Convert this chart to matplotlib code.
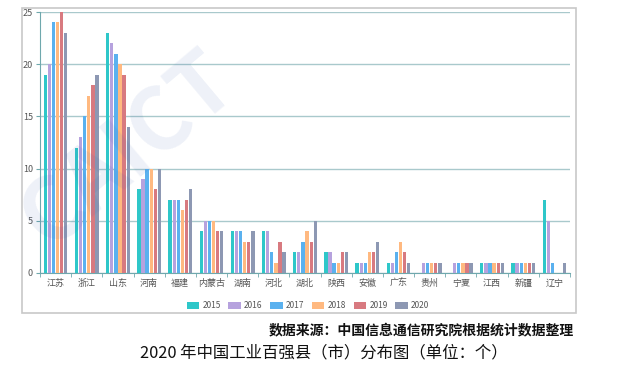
import numpy as np
import matplotlib.pyplot as plt
from matplotlib.patches import Rectangle

plt.rcParams['font.family'] = ['Noto Sans CJK SC', 'DejaVu Sans']

provinces = ['江苏', '浙江', '山东', '河南', '福建', '内蒙古', '湖南', '河北', '湖北',
             '陕西', '安徽', '广东', '贵州', '宁夏', '江西', '新疆', '辽宁']
years = ['2015', '2016', '2017', '2018', '2019', '2020']
v2015 = [19, 12, 23, 8, 7, 4, 4, 4, 2, 2, 1, 1, 0, 0, 1, 1, 7]
v2016 = [20, 13, 22, 9, 7, 5, 4, 4, 2, 2, 1, 1, 1, 1, 1, 1, 5]
v2017 = [24, 15, 21, 10, 7, 5, 4, 2, 3, 1, 1, 2, 1, 1, 1, 1, 1]
v2018 = [24, 17, 20, 10, 6, 5, 3, 1, 4, 1, 2, 3, 1, 1, 1, 1, 0]
v2019 = [25, 18, 19, 8, 7, 4, 3, 3, 3, 2, 2, 2, 1, 1, 1, 1, 0]
v2020 = [23, 19, 14, 10, 8, 4, 4, 2, 5, 2, 3, 1, 1, 1, 1, 1, 1]
series = [v2015, v2016, v2017, v2018, v2019, v2020]
colors = ['#2ec7c9', '#b6a2de', '#5ab1ef', '#ffb980', '#d87a80', '#8d98b3']

fig = plt.figure(figsize=(6.4, 3.76), dpi=100)

# chart frame
fig.patches.append(Rectangle((22/640, 1 - 313/376), (576-22)/640, (313-8)/376,
                             transform=fig.transFigure, fill=False,
                             edgecolor='#c8c8c8', linewidth=1.2, zorder=0))

# faint watermark
fig.text(0.2, 0.6, 'CAICT', fontsize=62, color='#3a5fb0', alpha=0.09,
         rotation=40, ha='center', va='center', fontweight='bold', zorder=0)

ax = fig.add_axes([40/640, 1 - 273/376, (570-40)/640, (273-12)/376])
ax.patch.set_alpha(0)

x = np.arange(len(provinces))
w = 0.105
for i, (vals, c, yr) in enumerate(zip(series, colors, years)):
    ax.bar(x + (i - 2.5) * w * 1.25, vals, width=w, color=c, label=yr, zorder=3)

ax.set_xlim(-0.5, len(provinces) - 0.5)
ax.set_ylim(0, 25)
ax.set_yticks([0, 5, 10, 15, 20, 25])
ax.set_xticks(x)
ax.set_xticklabels(provinces)
ax.set_xticks(np.arange(-0.5, len(provinces), 1), minor=True)
ax.tick_params(axis='x', which='major', length=0, labelsize=6.5, colors='#555555', pad=4)
ax.tick_params(axis='x', which='minor', length=3, color='#6fa8ad')
ax.tick_params(axis='y', length=3, labelsize=6.5, colors='#555555', pad=2)
ax.tick_params(axis='y', color='#6fa8ad')
ax.grid(axis='y', color='#a9c9cc', linewidth=1.0, zorder=0)
for s in ['top', 'right']:
    ax.spines[s].set_visible(False)
ax.spines['left'].set_color('#6fa8ad')
ax.spines['bottom'].set_color('#6fa8ad')

fig.legend(loc='center', bbox_to_anchor=(308/640, 1 - 306/376), ncol=6,
           frameon=False, fontsize=6, handlelength=1.5, handleheight=0.8,
           columnspacing=0.9, handletextpad=0.4, labelcolor='#555555')

fig.text(574/640, 1 - 330/376, '数据来源：中国信息通信研究院根据统计数据整理',
         ha='right', va='center', fontsize=10, fontweight='semibold', color='#111111')
fig.text(140/640, 1 - 353/376, '2020 年中国工业百强县（市）分布图（单位：个）',
         ha='left', va='center', fontsize=11.8, color='#111111')

fig.savefig('out.png', dpi=100)
